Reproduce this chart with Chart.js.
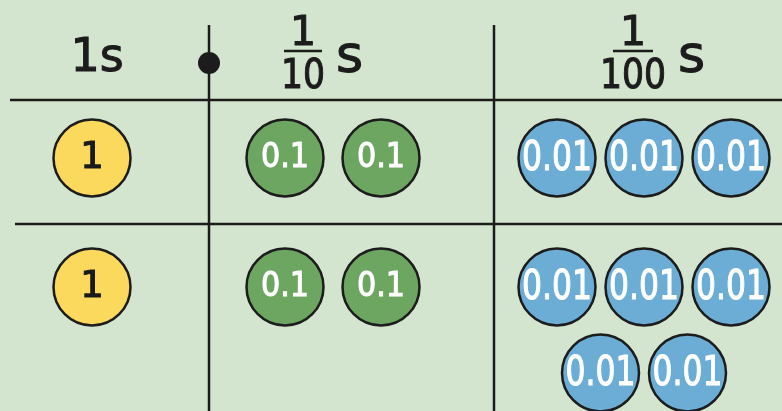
<!DOCTYPE html>
<html>
<head>
<meta charset="utf-8">
<script src="https://cdn.jsdelivr.net/npm/chart.js@4"></script>
<style>
  html, body { margin: 0; padding: 0; background: #d3e4cf; }
  #wrap { width: 782px; height: 411px; }
</style>
</head>
<body>
<div id="wrap"><canvas id="myChart" width="782" height="411"></canvas></div>
<script>
// place value columns and the counters in each row
const columns = ['1s', '1/10', '1/100'];
const placeValues = ['1', '0.1', '0.01'];
const row1Counts = [1, 2, 3];
const row2Counts = [1, 2, 5];
const rowCounts = [row1Counts, row2Counts];

// layout (in data units, axis spans the canvas)
const colCenters = [92, 333, 644];
const colSpacing = [0, 96, 87];
const rowY = [158, 287];
const lineGap = 86;
const perLine = 3;

const fills = ['#fbd95d', '#6ca660', '#6badd5'];
const textColors = ['#1a1a1a', '#ffffff', '#ffffff'];
const ink = '#1c1c1c';
const FONT = '"DejaVu Sans", sans-serif';

function counterPoints(col) {
  const pts = [];
  rowCounts.forEach((counts, r) => {
    const n = counts[col];
    for (let i = 0; i < n; i++) {
      const line = Math.floor(i / perLine);
      const inLine = Math.min(perLine, n - line * perLine);
      const k = i % perLine;
      pts.push({
        x: colCenters[col] + (k - (inLine - 1) / 2) * colSpacing[col],
        y: rowY[r] + line * lineGap
      });
    }
  });
  return pts;
}

const datasets = placeValues.map((v, c) => ({
  label: v,
  data: counterPoints(c),
  backgroundColor: fills[c],
  borderColor: ink,
  borderWidth: 2.5,
  pointRadius: 38.5,
  pointHoverRadius: 38.5,
  clip: false
}));

// draws text slightly heavier, like the marker lettering
function heavyText(ctx, txt, px, py, maxW) {
  ctx.lineWidth = 1.1;
  ctx.strokeStyle = ctx.fillStyle;
  if (maxW) {
    ctx.fillText(txt, px, py, maxW);
    ctx.strokeText(txt, px, py, maxW);
  } else {
    ctx.fillText(txt, px, py);
    ctx.strokeText(txt, px, py);
  }
}

const tablePlugin = {
  id: 'table',
  beforeDatasetsDraw(chart) {
    const { ctx, scales: { x, y } } = chart;
    ctx.save();
    ctx.fillStyle = ink;
    const line = (x1, y1, x2, y2) => {
      ctx.strokeStyle = ink;
      ctx.lineWidth = 2.5;
      ctx.beginPath();
      ctx.moveTo(x.getPixelForValue(x1), y.getPixelForValue(y1));
      ctx.lineTo(x.getPixelForValue(x2), y.getPixelForValue(y2));
      ctx.stroke();
    };
    line(10, 100, 782, 100);
    line(15, 224, 782, 224);
    line(209, 25, 209, 411);
    line(494, 25, 494, 411);
    // decimal point
    ctx.beginPath();
    ctx.arc(x.getPixelForValue(209), y.getPixelForValue(63), 11, 0, Math.PI * 2);
    ctx.fill();

    // headers
    ctx.textAlign = 'center';
    ctx.textBaseline = 'alphabetic';
    ctx.font = '46px ' + FONT;
    heavyText(ctx, columns[0], x.getPixelForValue(97), y.getPixelForValue(71));

    const fraction = (cx, denom, barW, sx) => {
      ctx.textAlign = 'center';
      ctx.font = '41px ' + FONT;
      heavyText(ctx, '1', x.getPixelForValue(cx), y.getPixelForValue(45));
      heavyText(ctx, denom, x.getPixelForValue(cx), y.getPixelForValue(88), denom.length * 22);
      line(cx - barW / 2, 51, cx + barW / 2, 51);
      ctx.textAlign = 'left';
      ctx.font = '52px ' + FONT;
      heavyText(ctx, 's', x.getPixelForValue(sx), y.getPixelForValue(72));
    };
    fraction(303, columns[1].split('/')[1], 38, 336);
    fraction(633, columns[2].split('/')[1], 40, 678);
    ctx.restore();
  },
  afterDatasetsDraw(chart) {
    const { ctx } = chart;
    const sizes = [37, 34, 41];
    const widths = [24, 48, 70];
    ctx.save();
    ctx.textAlign = 'center';
    ctx.textBaseline = 'alphabetic';
    chart.data.datasets.forEach((ds, i) => {
      ctx.font = sizes[i] + 'px ' + FONT;
      ctx.fillStyle = textColors[i];
      chart.getDatasetMeta(i).data.forEach(pt => {
        heavyText(ctx, ds.label, pt.x, pt.y + sizes[i] * 0.729 / 2 - 3, widths[i]);
      });
    });
    ctx.restore();
  }
};

new Chart(document.getElementById('myChart'), {
  type: 'scatter',
  data: { datasets: datasets },
  options: {
    responsive: false,
    animation: false,
    events: [],
    layout: { padding: 0, autoPadding: false },
    plugins: { legend: { display: false }, tooltip: { enabled: false } },
    scales: {
      x: { type: 'linear', min: 0, max: 782, display: false },
      y: { type: 'linear', min: 0, max: 411, reverse: true, display: false }
    }
  },
  plugins: [tablePlugin]
});
</script>
</body>
</html>
